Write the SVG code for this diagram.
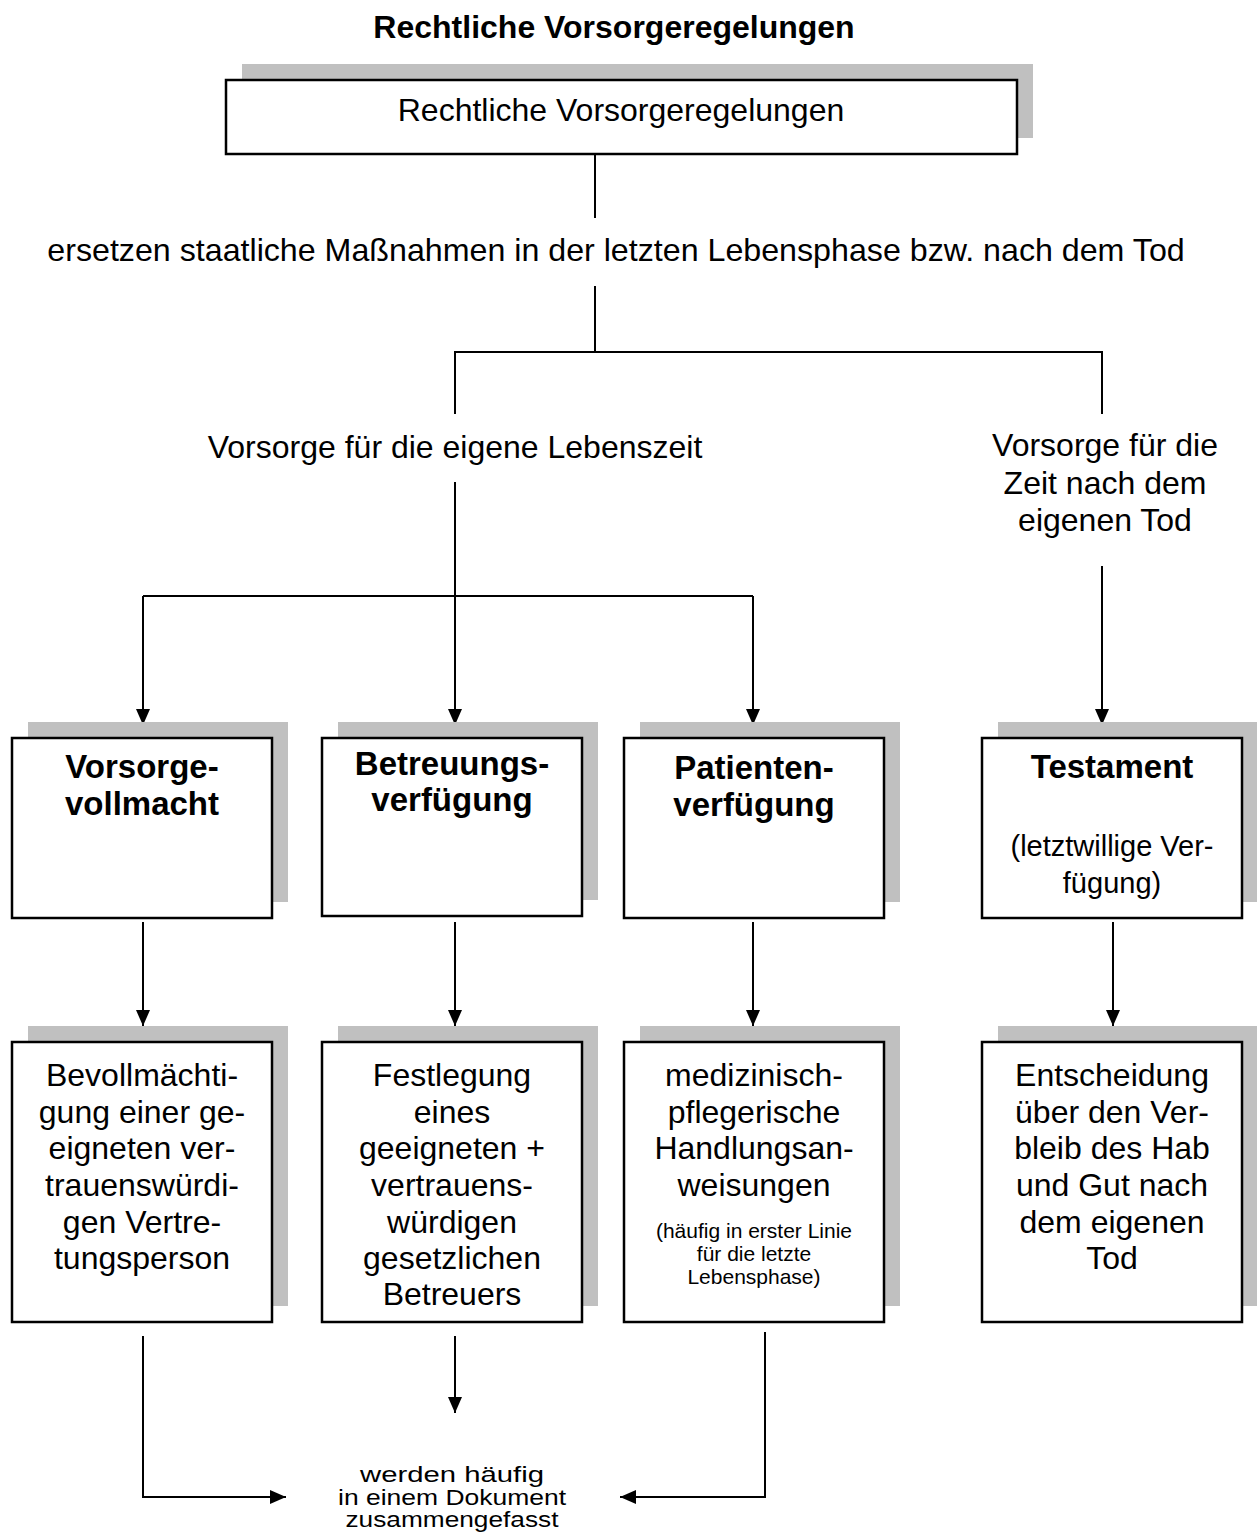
<svg xmlns="http://www.w3.org/2000/svg" width="1257" height="1532" viewBox="0 0 1257 1532">
<defs>
<style>
text{font-family:"Liberation Sans",Arial,sans-serif;fill:#000;text-anchor:middle}
.t{font-size:32px}
.b{font-size:33px;font-weight:bold}
.s{font-size:21px}
.m{font-size:29px}
.bt{font-size:22px}
.shadow{fill:#c0c0c0;stroke:none}
.box{fill:#fff;stroke:#000;stroke-width:2.5}
.ln{fill:none;stroke:#000;stroke-width:2}
</style>
<marker id="ah" viewBox="0 0 16 16" refX="16" refY="8" markerWidth="16" markerHeight="16" markerUnits="userSpaceOnUse" orient="auto">
<path d="M0,1 L16,8 L0,15 Z" fill="#000"/>
</marker>
</defs>
<rect width="1257" height="1532" fill="#fff"/>

<text class="b" x="614" y="38" style="font-size:32px">Rechtliche Vorsorgeregelungen</text>

<g id="connectors">
<line class="ln" x1="595" y1="154" x2="595" y2="218"/>
<line class="ln" x1="595" y1="286" x2="595" y2="352"/>
<polyline class="ln" points="455,414 455,352 1102,352 1102,414"/>
<line class="ln" x1="455" y1="482" x2="455" y2="596"/>
<line class="ln" x1="143" y1="596" x2="753" y2="596"/>
<line class="ln" x1="143" y1="596" x2="143" y2="725" marker-end="url(#ah)"/>
<line class="ln" x1="455" y1="596" x2="455" y2="725" marker-end="url(#ah)"/>
<line class="ln" x1="753" y1="596" x2="753" y2="725" marker-end="url(#ah)"/>
<line class="ln" x1="1102" y1="566" x2="1102" y2="725" marker-end="url(#ah)"/>
<line class="ln" x1="143" y1="922" x2="143" y2="1026" marker-end="url(#ah)"/>
<line class="ln" x1="455" y1="922" x2="455" y2="1026" marker-end="url(#ah)"/>
<line class="ln" x1="753" y1="922" x2="753" y2="1026" marker-end="url(#ah)"/>
<line class="ln" x1="1113" y1="922" x2="1113" y2="1026" marker-end="url(#ah)"/>
<polyline class="ln" points="143,1336 143,1497 286,1497" marker-end="url(#ah)"/>
<line class="ln" x1="455" y1="1336" x2="455" y2="1413" marker-end="url(#ah)"/>
<polyline class="ln" points="765,1332 765,1497 620,1497" marker-end="url(#ah)"/>
</g>

<g id="n-top">
<rect class="shadow" x="242" y="64" width="791" height="74"/>
<rect class="box" x="226" y="80" width="791" height="74"/>
<text class="t" x="621" y="121">Rechtliche Vorsorgeregelungen</text>
</g>

<g id="n-ersetzen">
<text class="t" x="616" y="261" style="font-size:32.2px">ersetzen staatliche Maßnahmen in der letzten Lebensphase bzw. nach dem Tod</text>
</g>

<g id="n-lebenszeit">
<text class="t" x="455" y="458">Vorsorge für die eigene Lebenszeit</text>
</g>

<g id="n-nachtod">
<text class="t" x="1105" y="456">Vorsorge für die</text>
<text class="t" x="1105" y="494">Zeit nach dem</text>
<text class="t" x="1105" y="531">eigenen Tod</text>
</g>

<g id="n-vorsorgevollmacht">
<rect class="shadow" x="28" y="722" width="260" height="180"/>
<rect class="box" x="12" y="738" width="260" height="180"/>
<text class="b" x="142" y="778">Vorsorge-</text>
<text class="b" x="142" y="815">vollmacht</text>
</g>

<g id="n-betreuungsverfuegung">
<rect class="shadow" x="338" y="722" width="260" height="178"/>
<rect class="box" x="322" y="738" width="260" height="178"/>
<text class="b" x="452" y="775">Betreuungs-</text>
<text class="b" x="452" y="811">verfügung</text>
</g>

<g id="n-patientenverfuegung">
<rect class="shadow" x="640" y="722" width="260" height="180"/>
<rect class="box" x="624" y="738" width="260" height="180"/>
<text class="b" x="754" y="779">Patienten-</text>
<text class="b" x="754" y="816">verfügung</text>
</g>

<g id="n-testament">
<rect class="shadow" x="998" y="722" width="262" height="180"/>
<rect class="box" x="982" y="738" width="260" height="180"/>
<text class="b" x="1112" y="778">Testament</text>
<text class="m" x="1112" y="856">(letztwillige Ver-</text>
<text class="m" x="1112" y="893">fügung)</text>
</g>

<g id="n-bevollmaechtigung">
<rect class="shadow" x="28" y="1026" width="260" height="280"/>
<rect class="box" x="12" y="1042" width="260" height="280"/>
<text class="t" x="142" y="1086">Bevollmächti-</text>
<text class="t" x="142" y="1123">gung einer ge-</text>
<text class="t" x="142" y="1159">eigneten ver-</text>
<text class="t" x="142" y="1196">trauenswürdi-</text>
<text class="t" x="142" y="1233">gen Vertre-</text>
<text class="t" x="142" y="1269">tungsperson</text>
</g>

<g id="n-festlegung">
<rect class="shadow" x="338" y="1026" width="260" height="280"/>
<rect class="box" x="322" y="1042" width="260" height="280"/>
<text class="t" x="452" y="1086">Festlegung</text>
<text class="t" x="452" y="1123">eines</text>
<text class="t" x="452" y="1159">geeigneten +</text>
<text class="t" x="452" y="1196">vertrauens-</text>
<text class="t" x="452" y="1233">würdigen</text>
<text class="t" x="452" y="1269">gesetzlichen</text>
<text class="t" x="452" y="1305">Betreuers</text>
</g>

<g id="n-handlungsanweisungen">
<rect class="shadow" x="640" y="1026" width="260" height="280"/>
<rect class="box" x="624" y="1042" width="260" height="280"/>
<text class="t" x="754" y="1086">medizinisch-</text>
<text class="t" x="754" y="1123">pflegerische</text>
<text class="t" x="754" y="1159">Handlungsan-</text>
<text class="t" x="754" y="1196">weisungen</text>
<text class="s" x="754" y="1238">(häufig in erster Linie</text>
<text class="s" x="754" y="1261">für die letzte</text>
<text class="s" x="754" y="1284">Lebensphase)</text>
</g>

<g id="n-entscheidung">
<rect class="shadow" x="998" y="1026" width="262" height="280"/>
<rect class="box" x="982" y="1042" width="260" height="280"/>
<text class="t" x="1112" y="1086">Entscheidung</text>
<text class="t" x="1112" y="1123">über den Ver-</text>
<text class="t" x="1112" y="1159">bleib des Hab</text>
<text class="t" x="1112" y="1196">und Gut nach</text>
<text class="t" x="1112" y="1233">dem eigenen</text>
<text class="t" x="1112" y="1269">Tod</text>
</g>

<g id="n-zusammengefasst">
<text class="bt" x="452" y="1482" textLength="184" lengthAdjust="spacingAndGlyphs">werden häufig</text>
<text class="bt" x="452" y="1505" textLength="228" lengthAdjust="spacingAndGlyphs">in einem Dokument</text>
<text class="bt" x="452" y="1527" textLength="213" lengthAdjust="spacingAndGlyphs">zusammengefasst</text>
</g>
</svg>
